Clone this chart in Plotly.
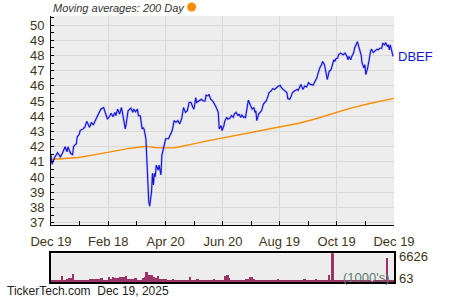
import pandas as pd
import plotly.graph_objects as go

start = pd.Timestamp("2024-12-19")

price_days = [0, 1, 4, 7, 10, 12, 15, 17, 18, 21, 23, 24, 27, 28, 30, 31, 34, 36, 38, 39, 41, 43, 45, 47, 49, 51, 53, 56, 58, 60,
              62, 64, 66, 68, 69, 71, 73, 75, 76, 78, 79, 80, 81, 82, 85, 87, 88, 90, 92, 93, 95, 96, 97, 98, 99, 101, 102, 103, 104, 105,
              107, 108, 109, 110, 111, 112, 114, 115, 117, 118, 120, 122, 125, 127, 129, 131, 133, 135, 137, 139, 141, 143, 145, 147, 149, 151, 152, 153, 154, 155,
              158, 160, 162, 164, 165, 167, 168, 170, 172, 175, 178, 179, 181, 182, 184, 185, 187, 188, 190, 192, 194, 195, 197, 199, 200, 202, 203, 205, 206, 207,
              210, 212, 213, 214, 216, 217, 218, 219, 221, 223, 224, 226, 229, 231, 232, 234, 236, 238, 240, 242, 244, 245, 247, 249, 251, 252, 254, 255, 257, 259,
              262, 263, 264, 266, 268, 270, 272, 274, 276, 279, 281, 283, 284, 286, 288, 289, 291, 293, 294, 296, 298, 299, 301, 302, 303, 305, 306, 308, 310, 311,
              313, 315, 316, 317, 319, 320, 322, 323, 326, 327, 329, 330, 331, 333, 334, 335, 337, 338, 340, 341, 343, 344, 347, 348, 350, 352, 353, 355, 356, 358,
              359, 360, 361, 364]
prices = [41.44, 40.85, 41.30, 41.60, 41.33, 41.55, 42.00, 41.66, 41.98, 41.55, 41.48, 42.02, 42.20, 42.67, 42.80, 43.06, 43.17, 43.28, 43.67, 43.50, 43.28, 43.60, 43.43, 43.71, 43.93, 44.15, 44.47, 44.58, 44.15, 43.82,
          43.97, 44.20, 43.97, 44.26, 44.04, 44.47, 44.15, 44.58, 44.26, 43.28, 43.17, 43.50, 43.82, 44.36, 44.54, 44.26, 44.47, 44.30, 44.47, 44.04, 44.04, 43.50, 43.17, 43.24, 43.17, 42.52, 40.79, 39.06, 38.41, 38.08,
          39.06, 40.25, 39.49, 40.25, 40.03, 40.79, 40.46, 40.79, 40.14, 41.44, 41.98, 42.52, 42.52, 42.85, 43.06, 43.71, 43.60, 43.71, 43.50, 43.82, 44.58, 44.26, 44.36, 44.91, 44.91, 44.58, 44.47, 44.80, 45.23, 44.91,
          45.01, 45.12, 45.01, 45.01, 45.38, 45.34, 45.45, 45.12, 45.01, 44.69, 44.26, 43.17, 43.39, 43.06, 43.39, 43.70, 43.93, 43.82, 43.85, 44.04, 43.93, 44.15, 44.26, 44.04, 44.15, 43.93, 44.08, 43.93, 43.98, 43.93,
          45.06, 44.80, 44.69, 44.47, 44.58, 44.26, 44.36, 43.71, 44.15, 44.26, 44.36, 44.80, 45.01, 45.34, 45.56, 45.66, 45.82, 45.77, 45.88, 45.99, 46.03, 45.90, 45.77, 45.66, 45.56, 45.17, 45.12, 45.23, 45.56, 45.66,
          45.77, 45.71, 45.88, 46.10, 45.77, 45.99, 45.93, 46.21, 46.10, 46.05, 46.31, 46.53, 46.79, 47.18, 47.40, 47.61, 47.40, 46.75, 46.42, 46.96, 47.07, 47.29, 47.72, 47.61, 47.77, 47.83, 48.05, 48.16, 48.09, 48.05,
          48.16, 47.94, 47.72, 47.94, 47.72, 47.94, 48.16, 48.48, 48.91, 48.70, 48.37, 48.05, 47.51, 47.18, 47.40, 46.75, 47.18, 47.61, 48.26, 48.42, 48.20, 48.26, 48.42, 48.37, 48.48, 48.48, 48.81, 48.70, 48.85, 48.59,
          48.70, 48.37, 48.70, 47.94]

ma_days = [0, 29, 47, 65, 82, 95, 102, 110, 118, 132, 143, 153, 164, 175, 189, 212, 244, 265, 281, 318, 339, 365]
ma200 = [41.16, 41.29, 41.48, 41.70, 41.87, 41.98, 42.02, 41.95, 41.92, 41.93, 42.05, 42.20, 42.35, 42.48, 42.67, 42.91, 43.28, 43.56, 43.82, 44.52, 44.84, 45.18]

# volume (thousands), every second calendar day from day 0 to day 364
volume = [470, 230, 470, 230, 470, 470, 1250, 470, 470, 600, 860, 860, 1720, 470, 470, 400, 470, 500, 470, 470, 470,
          620, 620, 700, 700, 700, 700, 860, 390, 390, 390, 1000, 700, 1170, 860, 860, 860, 1000, 1000, 1000, 1400,
          620, 620, 620, 620, 900, 310, 310, 310, 780, 1000, 2200, 1480, 1480, 1480, 1170, 860, 1250, 550, 550, 550, 550,
          230, 230, 230, 550, 310, 310, 450, 310, 310, 310, 450, 310, 1170, 390, 390, 390, 550,
          310, 310, 310, 310, 450, 310, 310, 310, 600, 310, 310, 310, 400, 310, 1330, 1480, 850,
          390, 390, 310, 310, 310, 390, 310, 400, 650, 700, 1000, 1000, 700, 310, 310, 310, 310,
          390, 390, 400, 500, 400, 390, 390, 390, 600, 390, 310, 310, 310, 310, 310, 310, 310, 310, 310, 310,
          310, 310, 650, 390, 310, 310, 390, 310, 700, 390, 390, 390, 400, 390, 310, 1500, 400, 6626,
          310, 390, 310, 310, 310, 390, 310, 310, 310, 390, 310, 310, 390, 310, 310, 310, 310, 390, 310, 310,
          63, 310, 390, 310, 310, 310, 390, 310, 5550, 390, 310, 310, 310]
volume_days = list(range(0, 2 * len(volume), 2))

x_tick_days = [0, 61, 122, 183, 243, 304, 365]
x_tick_labels = ["Dec 19", "Feb 18", "Apr 20", "Jun 20", "Aug 19", "Oct 19", "Dec 19"]
x_minor_days = [30.5, 91.5, 152.5, 213, 273.5, 334.5]
y_ticks = list(range(37, 51))

price_dates = start + pd.to_timedelta(price_days, unit="D")
ma_dates = start + pd.to_timedelta(ma_days, unit="D")
vol_dates = start + pd.to_timedelta(volume_days, unit="D")
tick_dates = start + pd.to_timedelta(x_tick_days, unit="D")
minor_dates = start + pd.to_timedelta(x_minor_days, unit="D")

fig = go.Figure()
fig.add_trace(go.Scatter(x=ma_dates, y=ma200, mode="lines",
                         line=dict(color="#ff8c00", width=1.4), xaxis="x", yaxis="y", hoverinfo="skip"))
fig.add_trace(go.Scatter(x=price_dates, y=prices, mode="lines",
                         line=dict(color="rgba(90,90,255,0.3)", width=2.4), xaxis="x", yaxis="y", hoverinfo="skip"))
fig.add_trace(go.Scatter(x=price_dates, y=prices, mode="lines",
                         line=dict(color="#1414d8", width=1.1), xaxis="x", yaxis="y"))
fig.add_trace(go.Bar(x=vol_dates, y=volume, marker=dict(color="#9b3366", line=dict(width=0)),
                     width=2 * 86400000, xaxis="x2", yaxis="y2"))

font_color = "#3f3418"
fig.update_layout(
    width=450, height=300,
    margin=dict(l=51, r=56, t=16, b=15),
    paper_bgcolor="white", plot_bgcolor="#ededed",
    showlegend=False, bargap=0,
    font=dict(family="Liberation Sans, Arial, sans-serif", size=13, color=font_color),
    xaxis=dict(domain=[0, 1], anchor="y", type="date",
               range=[start, start + pd.Timedelta(days=365)],
               tickvals=tick_dates, ticktext=x_tick_labels,
               ticks="inside", ticklen=4, tickcolor="black", tickwidth=1,
               ticklabelstandoff=5,
               showgrid=True, gridcolor="#d9d9d9", gridwidth=1,
               showline=True, linecolor="black", linewidth=1,
               minor=dict(tickvals=minor_dates, ticks="inside", ticklen=4, tickcolor="black", showgrid=False),
               tickfont=dict(size=13, color=font_color), zeroline=False),
    yaxis=dict(domain=[0.2156, 1], anchor="x", range=[36.87, 50.6],
               tickvals=y_ticks, ticks="inside", ticklen=3, tickcolor="black",
               ticklabelstandoff=3,
               showgrid=True, gridcolor="#d9d9d9", gridwidth=1,
               showline=True, linecolor="black", linewidth=1,
               minor=dict(dtick=0.5, tick0=0, ticks="inside", ticklen=3, tickcolor="black", showgrid=False),
               tickfont=dict(size=13, color=font_color), zeroline=False),
    xaxis2=dict(domain=[0, 1], anchor="y2", type="date",
                range=[start, start + pd.Timedelta(days=365)],
                showticklabels=False, ticks="", showgrid=False,
                showline=True, linecolor="black", linewidth=1.5, mirror=True, zeroline=False),
    yaxis2=dict(domain=[0, 0.1078], anchor="x2", range=[0, 6626],
                showticklabels=False, ticks="", showgrid=False,
                showline=True, linecolor="black", linewidth=1.5, mirror=True, zeroline=False),
)

# right-hand labels
fig.add_annotation(xref="paper", yref="y", x=1.005, y=47.95, text="DBEF", showarrow=False,
                   xanchor="left", yanchor="middle", font=dict(size=13, color="#1414d8"))
fig.add_annotation(xref="paper", yref="y2", x=1.008, y=5800, text="6626", showarrow=False,
                   xanchor="left", yanchor="middle", font=dict(size=13, color=font_color))
fig.add_annotation(xref="paper", yref="y2", x=1.008, y=900, text="63", showarrow=False,
                   xanchor="left", yanchor="middle", font=dict(size=13, color=font_color))
fig.add_annotation(xref="paper", yref="y2", x=0.995, y=1000, text="(1000's)", showarrow=False,
                   xanchor="right", yanchor="middle", font=dict(size=13, color="#5c7e6c"))

# title and footer
fig.add_annotation(xref="paper", yref="paper", x=0.0, y=1.0, yshift=8, text="<i>Moving averages: 200 Day</i>",
                   showarrow=False, xanchor="left", yanchor="middle", font=dict(size=11, color="#333333"))
fig.add_shape(type="circle", xref="paper", yref="paper", xsizemode="pixel", ysizemode="pixel",
              xanchor=0.41, yanchor=1.0, x0=-4.5, x1=4.5, y0=4.5, y1=13.5,
              fillcolor="#ff8c00", line=dict(width=0))
fig.add_annotation(xref="paper", yref="paper", x=-0.134, y=0, yshift=-9, text="TickerTech.com  Dec 19, 2025",
                   showarrow=False, xanchor="left", yanchor="middle", font=dict(size=12, color="#222222"))

fig.write_html("out.html")
